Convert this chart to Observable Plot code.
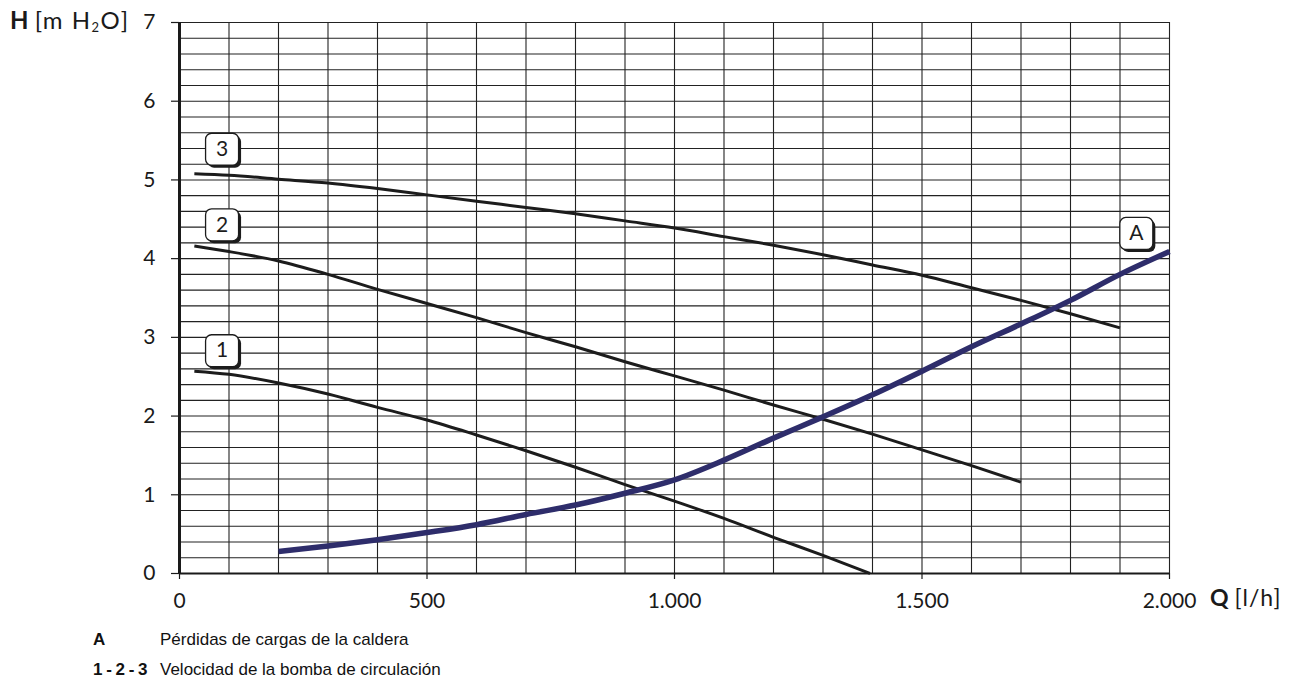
<!DOCTYPE html>
<html>
<head>
<meta charset="utf-8">
<script src="https://cdn.jsdelivr.net/npm/d3@7"></script>
<script src="https://cdn.jsdelivr.net/npm/@observablehq/plot@0.6"></script>
<style>
  html, body { margin: 0; padding: 0; background: #fff; }
  body { position: relative; width: 1298px; height: 681px; overflow: hidden; }
  #chart { position: absolute; left: 0; top: 0; }
  .t { position: absolute; white-space: nowrap; color: #1a1a1a; }
  .ax { font-family: Lato, "Open Sans", sans-serif; font-size: 24px; line-height: 24px; }
  .lg { font-family: "Liberation Sans", Arial, sans-serif; font-size: 17px; line-height: 30px; color: #111; }
  b { font-weight: bold; }
</style>
</head>
<body>
<div id="chart"></div>
<div class="t ax" style="left:10px; top:8px;"><b>H</b> <span style="letter-spacing:1.5px;">[m H<sub style="font-size:13px; vertical-align:-3px;">2</sub>O]</span></div>
<div class="t ax" style="left:1210px; top:585px; font-size:23px;"><b>Q</b> <span style="letter-spacing:1px;">[l/h]</span></div>
<div class="t lg" style="left:93px; top:625px;"><b>A</b></div>
<div class="t lg" style="left:160px; top:625px;">Pérdidas de cargas de la caldera</div>
<div class="t lg" style="left:93px; top:655px; word-spacing:-1px;"><b>1 - 2 - 3</b></div>
<div class="t lg" style="left:160px; top:655px;">Velocidad de la bomba de circulación</div>
<script>
// ---- data (Q in l/h, H in m H2O) ----
const curve1Q = [30, 100, 200, 300, 400, 500, 600, 700, 800, 900, 1000, 1100, 1200, 1300, 1395];
const curve1H = [2.57, 2.53, 2.42, 2.28, 2.11, 1.95, 1.76, 1.56, 1.35, 1.13, 0.92, 0.70, 0.46, 0.23, 0.0];

const curve2Q = [30, 100, 200, 300, 400, 500, 600, 700, 800, 900, 1000, 1100, 1200, 1300, 1400, 1500, 1600, 1700];
const curve2H = [4.16, 4.09, 3.97, 3.80, 3.61, 3.43, 3.25, 3.06, 2.88, 2.69, 2.51, 2.33, 2.14, 1.96, 1.77, 1.57, 1.37, 1.16];

const curve3Q = [30, 100, 200, 300, 400, 500, 600, 700, 800, 900, 1000, 1100, 1200, 1300, 1400, 1500, 1600, 1700, 1800, 1900];
const curve3H = [5.08, 5.06, 5.01, 4.96, 4.89, 4.81, 4.73, 4.65, 4.57, 4.48, 4.39, 4.28, 4.17, 4.05, 3.92, 3.79, 3.63, 3.47, 3.30, 3.12];

const curveAQ = [200, 300, 400, 500, 600, 700, 800, 900, 1000, 1100, 1200, 1300, 1400, 1500, 1600, 1700, 1800, 1900, 2000];
const curveAH = [0.28, 0.35, 0.43, 0.52, 0.62, 0.75, 0.87, 1.02, 1.19, 1.44, 1.72, 1.99, 2.27, 2.57, 2.88, 3.17, 3.47, 3.80, 4.09];

const labelText = ["1", "2", "3", "A"];
const labelQ = [86, 86, 86, 1933];
const labelH = [2.83, 4.43, 5.39, 4.32];

const xTicks = [0, 500, 1000, 1500, 2000];
const yTicks = [0, 1, 2, 3, 4, 5, 6, 7];
const xGrid = d3.range(0, 2001, 100);
const yGrid = d3.range(0, 36).map(i => i / 5);

// ---- build tables ----
const pumpCurves = [
  ["1", curve1Q, curve1H],
  ["2", curve2Q, curve2H],
  ["3", curve3Q, curve3H]
].flatMap(([id, qs, hs]) => qs.map((q, i) => ({id, q, h: hs[i]})));
const lossCurve = curveAQ.map((q, i) => ({q, h: curveAH[i]}));
const labels = labelText.map((t, i) => ({t, q: labelQ[i], h: labelH[i]}));

const fmtX = d => d3.format(",")(d).replace(/,/g, ".");
const fmtY = d3.format("d");

const roundBox = {
  draw(ctx) {
    const w = 16.5, h = 16, r = 6;
    ctx.moveTo(-w + r, -h);
    ctx.lineTo(w - r, -h);
    ctx.arcTo(w, -h, w, -h + r, r);
    ctx.lineTo(w, h - r);
    ctx.arcTo(w, h, w - r, h, r);
    ctx.lineTo(-w + r, h);
    ctx.arcTo(-w, h, -w, h - r, r);
    ctx.lineTo(-w, -h + r);
    ctx.arcTo(-w, -h, -w + r, -h, r);
    ctx.closePath();
  }
};

const chart = Plot.plot({
  width: 1298,
  height: 620,
  marginLeft: 179,
  marginRight: 129,
  marginTop: 22,
  marginBottom: 47,
  x: {domain: [0, 2000]},
  y: {domain: [0, 7]},
  style: {fontFamily: "Lato, 'Open Sans', sans-serif", fontSize: "20px", color: "#1a1a1a", background: "white"},
  marks: [
    Plot.ruleX(xGrid, {stroke: "#222", strokeWidth: 1.1}),
    Plot.ruleY(yGrid, {stroke: "#222", strokeWidth: 1.1}),
    Plot.ruleX([0], {stroke: "#1a1a1a", strokeWidth: 3}),
    Plot.ruleY([0], {stroke: "#1a1a1a", strokeWidth: 2}),
    Plot.axisY({ticks: yTicks, tickSize: 8, tickPadding: 16, label: null, tickFormat: fmtY, stroke: "#1a1a1a", strokeWidth: 1.2, fontSize: 21}),
    Plot.axisX({ticks: xTicks, tickSize: 6, tickPadding: 14, label: null, tickFormat: fmtX, stroke: "#1a1a1a", strokeWidth: 1.2, fontSize: 21}),
    Plot.line(pumpCurves, {x: "q", y: "h", z: "id", curve: "monotone-x", stroke: "#1c1c1c", strokeWidth: 3, strokeLinecap: "butt"}),
    Plot.line(lossCurve, {x: "q", y: "h", curve: "monotone-x", stroke: "#2e2d6b", strokeWidth: 5.5, strokeLinecap: "butt"}),
    Plot.dot(labels, {x: "q", y: "h", symbol: roundBox, r: 18, fill: "#1c1c1c", stroke: "none", dx: 2.5, dy: 2.5}),
    Plot.dot(labels, {x: "q", y: "h", symbol: roundBox, r: 18, fill: "white", stroke: "#1c1c1c", strokeWidth: 1.3}),
    Plot.text(labels, {x: "q", y: "h", text: "t", fontSize: 21, fill: "#1c1c1c"})
  ]
});
document.getElementById("chart").appendChild(chart);
</script>
</body>
</html>
